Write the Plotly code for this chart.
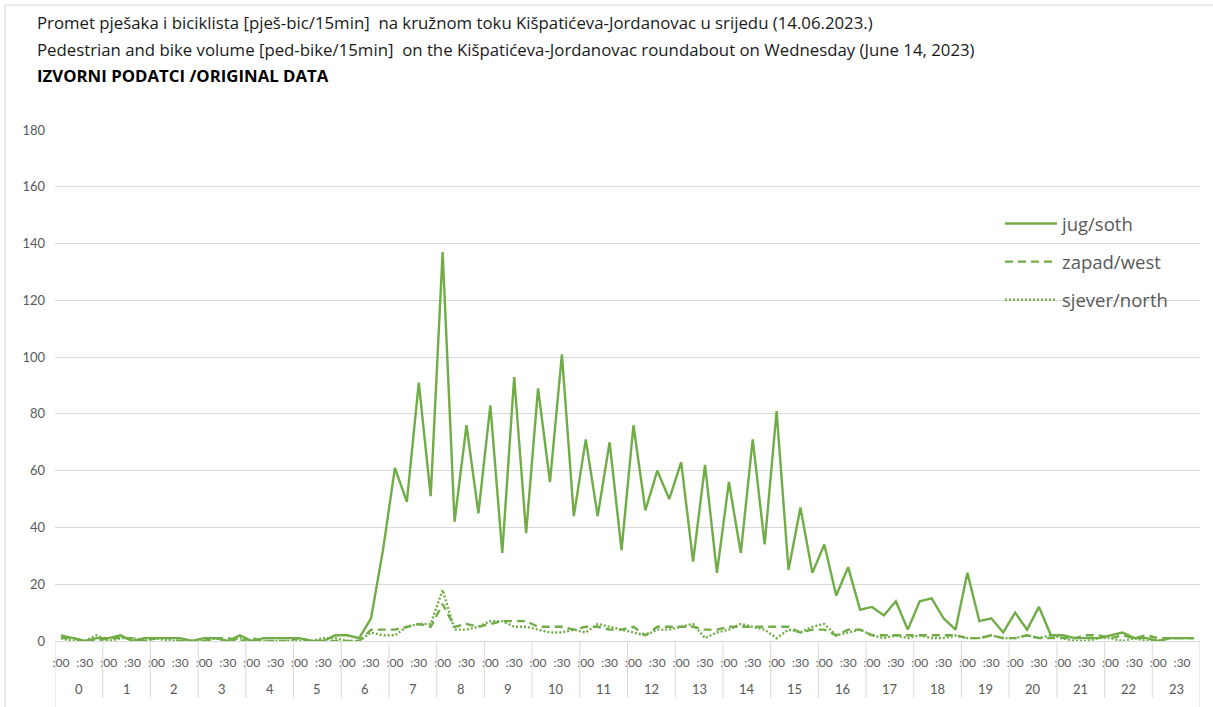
import plotly.graph_objects as go

HOURS = [str(h) for h in range(24)]
QUARTERS = [":00", ":15", ":30", ":45"]
SHOWN_QUARTERS = [":00", ":30"]

JUG = [2, 1, 0, 1, 1, 2, 0, 1, 1, 1, 1, 0, 1, 1, 0, 2, 0, 1, 1, 1, 1, 0, 0, 2,
       2, 1, 8, 32, 61, 49, 91, 51, 137, 42, 76, 45, 83, 31, 93, 38, 89, 56, 101, 44,
       71, 44, 70, 32, 76, 46, 60, 50, 63, 28, 62, 24, 56, 31, 71, 34, 81, 25, 47, 24,
       34, 16, 26, 11, 12, 9, 14, 4, 14, 15, 8, 4, 24, 7, 8, 3, 10, 4, 12, 2,
       2, 1, 1, 1, 2, 3, 1, 1, 0, 1, 1, 1]
ZAPAD = [1, 1, 0, 0, 1, 1, 1, 0, 1, 1, 0, 0, 0, 1, 1, 0, 1, 0, 0, 0, 1, 0, 0, 0,
         0, 0, 4, 4, 4, 5, 6, 5, 13, 5, 6, 5, 6, 7, 7, 7, 5, 5, 5, 4,
         5, 5, 4, 4, 5, 2, 5, 5, 5, 5, 4, 4, 5, 5, 5, 5, 5, 5, 3, 4,
         4, 2, 4, 4, 2, 2, 2, 2, 2, 2, 2, 2, 1, 1, 2, 1, 1, 2, 1, 1,
         1, 1, 2, 2, 1, 2, 1, 2, 1, 1, 1, 1]
SJEVER = [1, 0, 0, 2, 0, 1, 1, 0, 1, 0, 0, 0, 0, 1, 0, 1, 0, 0, 0, 0, 0, 0, 1, 1,
          0, 0, 3, 2, 2, 5, 6, 6, 18, 4, 4, 5, 7, 7, 5, 5, 4, 3, 3, 4,
          3, 6, 5, 4, 3, 2, 4, 4, 5, 6, 1, 3, 4, 6, 5, 4, 1, 4, 3, 5,
          6, 2, 3, 4, 2, 1, 2, 1, 2, 1, 1, 2, 1, 1, 2, 1, 1, 2, 1, 2,
          1, 0, 0, 1, 1, 0, 1, 0, 0, 1, 1, 1]

SERIES_NAMES = ["jug/soth", "zapad/west", "sjever/north"]

NQ = len(QUARTERS)
x_idx = list(range(len(HOURS) * NQ))
tick_vals = [i for i in x_idx if QUARTERS[i % NQ] in SHOWN_QUARTERS]
tick_text = [QUARTERS[i % NQ] for i in tick_vals]

W, H = 1213, 707
ML, MR, MT, MB = 55, 13, 130, 66
PH = H - MT - MB
PW = W - ML - MR

GREEN = "#70ad47"
GREY = "#595959"
LGREY = "#d9d9d9"
FONT = "'Open Sans', 'Noto Sans', sans-serif"
AXFONT = "Lato, 'Open Sans', sans-serif"

fig = go.Figure()
for name, vals, dash in zip(SERIES_NAMES, [JUG, ZAPAD, SJEVER], ["solid", "8px,5px", "2px,2px"]):
    fig.add_trace(go.Scatter(
        x=x_idx, y=vals, mode="lines", name=name,
        legendgroup=name,
        line=dict(color=GREEN, width=2.4, dash=dash),
    ))

fig.update_layout(
    width=W, height=H,
    margin=dict(l=ML, r=MR, t=MT, b=MB),
    paper_bgcolor="white", plot_bgcolor="white",
    font=dict(family=AXFONT, color=GREY),
    showlegend=True,
    legend=dict(x=(1000 - ML) / PW, y=1 - (205 - MT) / PH, xanchor="left", yanchor="top",
                font=dict(size=18.5, color=GREY, family=FONT), tracegroupgap=11,
                itemwidth=52, bgcolor="rgba(255,255,255,0)"),
    xaxis=dict(range=[-0.5, len(x_idx) - 0.5], tickmode="array",
               tickvals=tick_vals, ticktext=tick_text, showgrid=False, tickangle=0,
               tickfont=dict(size=12, color=GREY), ticks="", ticklabelstandoff=11,
               showline=True, linecolor=LGREY, linewidth=1, zeroline=False),
    yaxis=dict(range=[0, 180], dtick=20, showgrid=True, gridcolor=LGREY,
               gridwidth=1, zeroline=False, ticks="", showline=False,
               tickfont=dict(size=13, color=GREY), ticklabelstandoff=9),
)

# hour group labels and dividers of the two-level category axis
for h, lab in enumerate(HOURS):
    fig.add_annotation(
        text=lab, xref="x", yref="paper", x=h * NQ + (NQ - 1) / 2,
        y=-(689 - (H - MB)) / PH, showarrow=False, yanchor="middle",
        font=dict(size=13, color=GREY, family=AXFONT),
    )
for h in range(len(HOURS) + 1):
    edge = h in (0, len(HOURS))
    bottom = 707 if edge else 698
    fig.add_shape(
        type="line", xref="x", yref="paper",
        x0=h * NQ - 0.5, x1=h * NQ - 0.5, y0=0, y1=-(bottom - (H - MB)) / PH,
        line=dict(color=LGREY, width=1),
    )

# chart-area border (left and top edges)
fig.add_shape(type="line", xref="paper", yref="paper",
              x0=(5 - ML) / PW, x1=(5 - ML) / PW, y0=1 + (MT - 5) / PH, y1=-(MB) / PH,
              line=dict(color=LGREY, width=1))
fig.add_shape(type="line", xref="paper", yref="paper",
              x0=(5 - ML) / PW, x1=1 + MR / PW, y0=1 + (MT - 5) / PH, y1=1 + (MT - 5) / PH,
              line=dict(color=LGREY, width=1))

titles = [
    ("Promet pješaka i biciklista [pješ-bic/15min]  na kružnom toku Kišpatićeva-Jordanovac u srijedu (14.06.2023.)", 22, False),
    ("Pedestrian and bike volume [ped-bike/15min]  on the Kišpatićeva-Jordanovac roundabout on Wednesday (June 14, 2023)", 49, False),
    ("IZVORNI PODATCI /ORIGINAL DATA", 76, True),
]
for text, ypx, bold in titles:
    fig.add_annotation(
        text=f"<b>{text}</b>" if bold else text,
        xref="paper", yref="paper", showarrow=False,
        x=(35 - ML) / PW, y=1 + (MT - ypx) / PH,
        xanchor="left", yanchor="middle",
        font=dict(size=16.8, color="#1a1a1a" if not bold else "#000000", family=FONT),
    )

fig.write_html("out.html")
